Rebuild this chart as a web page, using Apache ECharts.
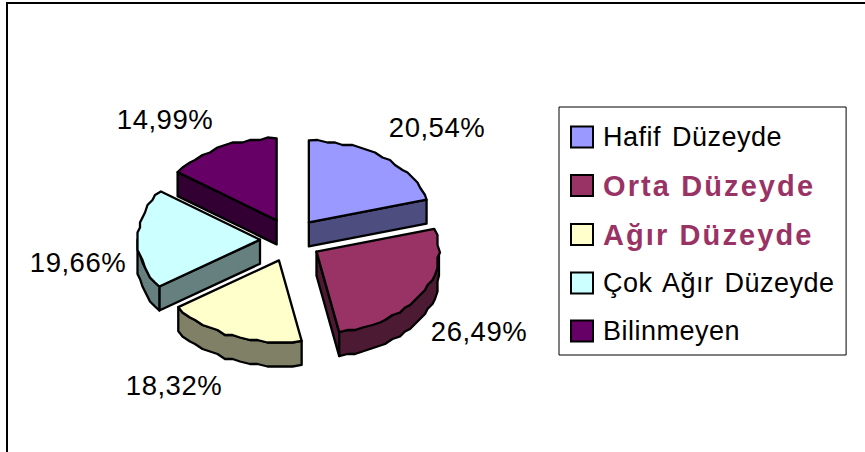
<!DOCTYPE html>
<html>
<head>
<meta charset="utf-8">
<style>
html, body { margin: 0; background: #fff; }
#chart { width: 865px; height: 452px; }
svg text { letter-spacing: 0.5px; word-spacing: 3px; }
svg text[fill="#993366"], svg text[style*="bold"] { letter-spacing: 2.1px; word-spacing: 0; }
</style>
<script src="https://cdn.jsdelivr.net/npm/echarts@6/dist/echarts.min.js"></script>
</head>
<body>
<div id="chart"></div>
<script>
const categories = ['Hafif Düzeyde', 'Orta Düzeyde', 'Ağır Düzeyde', 'Çok Ağır Düzeyde', 'Bilinmeyen'];
const values = [20.54, 26.49, 18.32, 19.66, 14.99];
const valueLabels = ['20,54%', '26,49%', '18,32%', '19,66%', '14,99%'];
const topColors = ['#9999ff', '#993366', '#ffffcc', '#ccffff', '#660066'];
const sideColors = ['#4d4d80', '#4d1a33', '#808066', '#668080', '#330033'];
const boldNames = ['Orta Düzeyde', 'Ağır Düzeyde'];

// pie layout, px
const cx = 290.5, cy = 240, rx = 122.5, ry = 82, explodeX = 30.5, explodeY = 22, depth = 24;
const labelAnchors = [[437, 127], [479, 331], [174, 385], [78, 262], [165, 119]];

const total = values.reduce((a, b) => a + b, 0);
const chart = echarts.init(document.getElementById('chart'), null, { renderer: 'svg' });

// the old office renderer steps its arcs, so snap rim points to a coarse grid
function snap(p) {
  return [Math.round(p[0] / 2.5) * 2.5, Math.round(p[1] / 2.5) * 2.5];
}

function renderSlice(params, api) {
  const i = params.seriesIndex;
  const before = values.slice(0, i).reduce((a, b) => a + b, 0);
  const a0 = before / total * Math.PI * 2;
  const a1 = (before + api.value(0)) / total * Math.PI * 2;
  const mid = (a0 + a1) / 2;
  const ax = cx + explodeX * Math.sin(mid);
  const ay = cy - explodeY * Math.cos(mid);
  const rim = t => [ax + rx * Math.sin(t), ay - ry * Math.cos(t)];
  const down = p => [p[0], p[1] + depth];
  const style = { stroke: '#000', lineWidth: 2.3, lineJoin: 'round' };
  const poly = (points, fill) => ({ type: 'polygon', shape: { points }, style: { ...style, fill } });

  const arc = (from, to) => {
    const n = Math.max(1, Math.round((to - from) / 0.07));
    const pts = [];
    for (let k = 0; k <= n; k++) {
      const p = rim(from + (to - from) * k / n);
      pts.push(k === 0 || k === n ? p : snap(p));
    }
    return pts;
  };

  const children = [];
  const apex = [ax, ay];
  if (Math.sin(a0) < -0.001) {
    children.push(poly([apex, rim(a0), down(rim(a0)), down(apex)], sideColors[i]));
  }
  if (Math.sin(a1) > 0.001) {
    children.push(poly([apex, rim(a1), down(rim(a1)), down(apex)], sideColors[i]));
  }
  const w0 = Math.max(a0, Math.PI / 2), w1 = Math.min(a1, Math.PI * 1.5);
  if (w1 > w0) {
    const wall = arc(w0, w1);
    children.push(poly(wall.concat(wall.map(down).reverse()), sideColors[i]));
  }
  children.push(poly([apex].concat(arc(a0, a1)), topColors[i]));
  children.push({
    type: 'text',
    style: {
      x: labelAnchors[i][0], y: labelAnchors[i][1],
      text: valueLabels[i], fill: '#000',
      font: '27.5px "Liberation Sans", Arial, sans-serif',
      textAlign: 'center', textVerticalAlign: 'middle'
    }
  });
  return { type: 'group', children };
}

const option = {
  animation: false,
  backgroundColor: '#fff',
  graphic: [{
    type: 'rect',
    shape: { x: 7, y: 3, width: 900, height: 500 },
    style: { fill: 'none', stroke: '#000', lineWidth: 2 },
    silent: true
  }],
  legend: {
    orient: 'vertical',
    left: 559,
    top: 107,
    padding: [16, 24, 10, 11],
    itemWidth: 22,
    itemHeight: 21,
    itemGap: 20,
    backgroundColor: '#fff',
    borderColor: '#000',
    borderWidth: 1,
    borderRadius: 0,
    icon: 'rect',
    data: categories.map((name, i) => {
      const bold = boldNames.includes(name);
      return {
        name,
        itemStyle: { color: topColors[i], borderColor: '#000', borderWidth: 2 },
        textStyle: {
          color: bold ? '#993366' : '#000',
          fontWeight: bold ? 'bold' : 'normal',
          fontSize: bold ? 29 : 27,
          lineHeight: 22,
          padding: [0, 0, 6, 5],
          fontFamily: '"Liberation Sans", Arial, sans-serif'
        }
      };
    })
  },
  series: categories.map((name, i) => ({
    type: 'custom',
    name,
    coordinateSystem: 'none',
    silent: true,
    itemStyle: { color: topColors[i] },
    renderItem: renderSlice,
    data: [values[i]]
  }))
};
chart.setOption(option);
</script>
</body>
</html>
